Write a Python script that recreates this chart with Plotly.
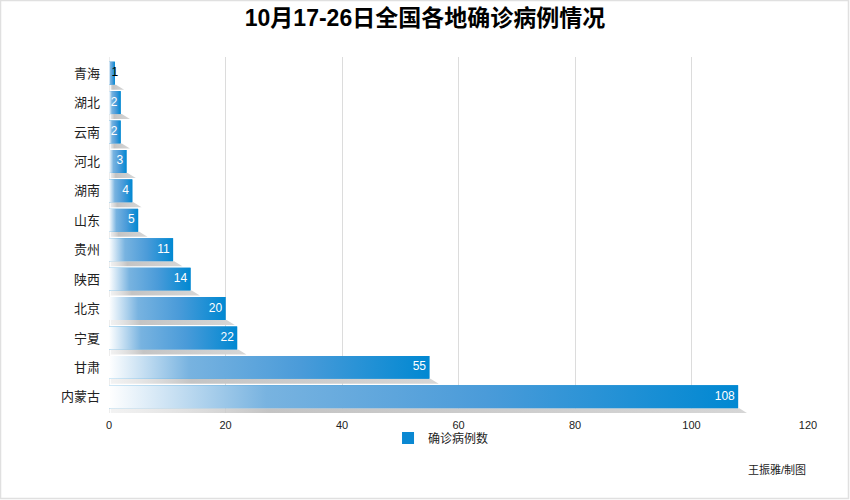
import plotly.graph_objects as go

categories = ["青海", "湖北", "云南", "河北", "湖南", "山东", "贵州", "陕西", "北京", "宁夏", "甘肃", "内蒙古"]
values = [1, 2, 2, 3, 4, 5, 11, 14, 20, 22, 55, 108]
x_ticks = [0, 20, 40, 60, 80, 100, 120]
series_name = "确诊病例数"
title_text = "10月17-26日全国各地确诊病例情况"
credit_text = "王振雅/制图"

FONT = "Liberation Sans, Noto Sans CJK SC, sans-serif"
BLUE = "#0a88d2"
HALF = 0.39

idx = list(range(len(categories)))
fig = go.Figure()

# base bars (legend + underlying mark)
fig.add_trace(go.Bar(
    x=values, y=idx, orientation="h", width=2 * HALF,
    marker=dict(color=BLUE, line=dict(width=0)),
    name=series_name, showlegend=True, hoverinfo="skip",
))

# shadows and gradient overlays
for i, v in zip(idx, values):
    fig.add_trace(go.Scatter(
        x=[0.3, v + 0.2, v + 1.6, 0.3, 0.3],
        y=[i + HALF, i + HALF, i + 0.56, i + 0.56, i + HALF],
        mode="none", fill="toself",
        fillgradient=dict(type="horizontal", start=0, stop=v + 1.6,
                          colorscale=[[0, "rgba(225,225,225,0.4)"], [0.25, "#c4c4c4"], [1, "#d6d6d6"]]),
        showlegend=False, hoverinfo="skip",
    ))
for i, v in zip(idx, values):
    fig.add_trace(go.Scatter(
        x=[0, v, v, 0, 0],
        y=[i - HALF, i - HALF, i + HALF, i + HALF, i - HALF],
        mode="none", fill="toself",
        fillgradient=dict(type="horizontal", start=0, stop=v,
                          colorscale=[[0, "#ffffff"], [0.25, "#78b3e0"], [0.6, "#4a9bd9"], [1, "#0088d2"]]),
        showlegend=False, hoverinfo="skip",
    ))

# value labels
inside = [k for k, v in enumerate(values) if v >= 2]
outside = [k for k, v in enumerate(values) if v < 2]
fig.add_trace(go.Scatter(
    x=[values[k] for k in inside], y=[idx[k] for k in inside],
    mode="text", text=[str(values[k]) + "\u00a0" for k in inside],
    textposition="middle left",
    textfont=dict(family=FONT, size=12, color="white"),
    showlegend=False, hoverinfo="skip",
))
fig.add_trace(go.Scatter(
    x=[values[k] for k in outside], y=[idx[k] for k in outside],
    mode="text", text=[str(values[k]) for k in outside],
    textposition="middle center",
    textfont=dict(family=FONT, size=12, color="black"),
    showlegend=False, hoverinfo="skip",
))

fig.update_layout(
    width=850, height=500,
    margin=dict(l=109, r=42, t=57, b=87),
    paper_bgcolor="white", plot_bgcolor="white",
    title=dict(text=f"<b>{title_text}</b>", x=0.5, xanchor="center", y=0.964, yanchor="middle",
               font=dict(family=FONT, size=23, color="black")),
    font=dict(family=FONT, color="#222"),
    xaxis=dict(range=[0, 120], tickvals=x_ticks, ticktext=[str(t) for t in x_ticks],
               showgrid=True, gridcolor="#dcdcdc", gridwidth=1, zeroline=False,
               showline=False, tickfont=dict(size=11, color="#222"), ticks="", ticklen=0,
               ticklabelstandoff=4),
    yaxis=dict(range=[11.55, -0.55], tickvals=idx, ticktext=categories,
               showgrid=False, zeroline=False, showline=False, ticks="",
               tickfont=dict(size=13, color="#222"), ticklabelstandoff=8),
    legend=dict(orientation="h", x=0.475, xanchor="center", y=-0.07, yanchor="middle",
                font=dict(size=12, color="#222"), itemwidth=30, bgcolor="rgba(0,0,0,0)"),
    annotations=[dict(text=credit_text, xref="paper", yref="paper", x=1.0, y=-0.16,
                      xanchor="right", yanchor="middle", showarrow=False,
                      font=dict(family=FONT, size=11, color="#222"))],
    shapes=[dict(type="line", xref="x", yref="paper", x0=0, x1=0, y0=0, y1=1,
                 line=dict(color="#dcdcdc", width=1), layer="below"),
            dict(type="rect", xref="paper", yref="paper",
                 x0=-108.5 / 699, x1=1 + 40.5 / 699, y0=-85.5 / 356, y1=1 + 56.5 / 356,
                 line=dict(color="#e0e0e0", width=1.5), fillcolor="rgba(0,0,0,0)", layer="below")],
    showlegend=True,
)

fig.write_html("out.html", config={"displayModeBar": False},
               post_script="document.body.style.margin='0';document.body.style.padding='0';")
